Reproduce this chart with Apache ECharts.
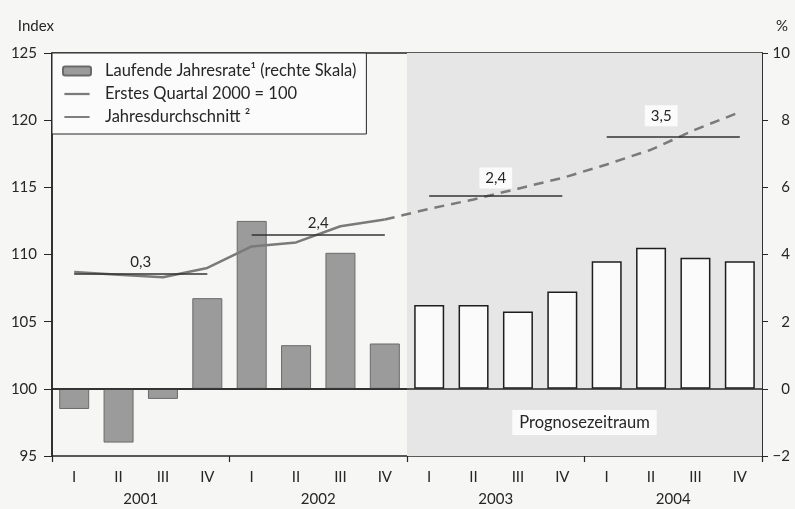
<!DOCTYPE html>
<html>
<head>
<meta charset="utf-8">
<script src="https://cdn.jsdelivr.net/npm/echarts@6/dist/echarts.min.js"></script>
<style>
  html, body { margin: 0; padding: 0; background: #f6f6f5; }
  #chart { width: 795px; height: 509px; }
</style>
</head>
<body>
<div id="chart"></div>
<script>
const years = ["2001", "2002", "2003", "2004"];
const quarters = ["I", "II", "III", "IV"];
// laufende Jahresrate in % (rechte Skala)
const rate = [-0.6, -1.6, -0.3, 2.7, 5.0, 1.3, 4.05, 1.35, 2.5, 2.5, 2.3, 2.9, 3.8, 4.2, 3.9, 3.8];
// Index, Erstes Quartal 2000 = 100
const indexActual = [108.7, 108.5, 108.3, 109.0, 110.6, 110.9, 112.1, 112.6];
const indexForecast = [112.6, 113.4, 114.1, 114.9, 115.7, 116.7, 117.8, 119.3, 120.6];
// Jahresdurchschnitt (Index) und Veränderung in %
const yearAvg = [108.6, 111.5, 114.4, 118.8];
const yearAvgLabel = ["0,3", "2,4", "2,4", "3,5"];
const forecastFrom = 8; // ab 2003 I

const categories = [];
years.forEach((y) => quarters.forEach((q) => categories.push(y + " " + q)));

const font = "Lato";
const ink = "#262626";

const barData = rate.map((v, i) =>
  i < forecastFrom
    ? v
    : { value: v, itemStyle: { color: "#fbfbfb", borderColor: "#1e1e1e", borderWidth: 1.5 } }
);
const solidLine = categories.map((c, i) => (i < indexActual.length ? indexActual[i] : null));
const dashedLine = categories.map((c, i) =>
  i >= indexActual.length - 1 ? indexForecast[i - indexActual.length + 1] : null
);

// Labels der Jahresdurchschnitte: 2003/2004 auf weissem Feld
const avgLabelStyle = [
  { distance: 4 },
  { distance: 4 },
  { distance: 7, backgroundColor: "#fbfbfb", padding: [3, 6] },
  { distance: 10, backgroundColor: "#fbfbfb", padding: [3, 6], offset: [-12, 0] },
];
const avgLines = years.map((y, k) => [
  { coord: [y + " I", yearAvg[k]], label: Object.assign({ formatter: yearAvgLabel[k] }, avgLabelStyle[k]) },
  { coord: [y + " IV", yearAvg[k]] },
]);

const chart = echarts.init(document.getElementById("chart"));

const option = {
  backgroundColor: "#f6f6f5",
  animation: false,
  textStyle: { fontFamily: font, color: ink },
  grid: {
    left: 52, right: 33, top: 53, bottom: 53,
    show: true, borderColor: ink, borderWidth: 1.5, backgroundColor: "transparent",
  },
  legend: {
    orient: "vertical",
    left: 52, top: 53,
    padding: [9, 10, 8, 10],
    itemGap: 5,
    itemWidth: 28,
    itemHeight: 9,
    backgroundColor: "#fbfbfb",
    borderColor: ink,
    borderWidth: 1,
    textStyle: { fontFamily: font, fontSize: 16.5, color: ink, lineHeight: 18, padding: [0, 0, 0, 9] },
    data: [
      { name: "Laufende Jahresrate¹ (rechte Skala)" },
      { name: "Erstes Quartal 2000 = 100", icon: "path://M0,0L0,0M0,3.75H28V6.25H0ZM28,10L28,10" },
      { name: "Jahresdurchschnitt ²", icon: "path://M0,0L0,0M0,4.3H28V5.7H0ZM28,10L28,10" },
    ],
  },
  xAxis: [
    {
      type: "category",
      data: categories,
      position: "bottom",
      axisLine: { lineStyle: { color: ink, width: 1.5 } },
      axisTick: { show: false },
      axisLabel: {
        formatter: (v) => v.split(" ")[1],
        margin: 14, fontSize: 15, fontFamily: font, color: ink,
      },
    },
    {
      type: "category",
      data: years,
      position: "bottom",
      axisLine: { show: false },
      axisTick: { show: true, length: 6, lineStyle: { color: ink, width: 1.2 } },
      axisLabel: { margin: 36, fontSize: 15, fontFamily: font, color: ink },
    },
    { type: "value", min: 0, max: categories.length, show: false },
  ],
  yAxis: [
    {
      type: "value",
      name: "Index",
      nameLocation: "end",
      nameGap: 19,
      nameTextStyle: { align: "right", fontSize: 15, fontFamily: font, color: ink, padding: [0, -2, 0, 0] },
      min: 95, max: 125, interval: 5,
      position: "left",
      axisLine: { show: true, lineStyle: { color: ink, width: 1.5 } },
      axisTick: { show: true, length: 8, lineStyle: { color: ink } },
      axisLabel: { margin: 15, fontSize: 15, fontFamily: font, color: ink },
      splitLine: { show: false },
    },
    {
      type: "value",
      name: "%",
      nameLocation: "end",
      nameGap: 19,
      nameTextStyle: { align: "left", fontSize: 15, fontFamily: font, color: ink, padding: [0, 0, 0, 14] },
      min: -2, max: 10, interval: 2,
      position: "right",
      axisLine: { show: true, lineStyle: { color: ink, width: 1.5 } },
      axisTick: { show: true, length: 6, lineStyle: { color: ink } },
      axisLabel: {
        margin: 28, align: "right", fontSize: 15, fontFamily: font, color: ink,
        formatter: (v) => String(v).replace("-", "\u2212"),
      },
      splitLine: { show: false },
    },
  ],
  series: [
    {
      // Prognosezeitraum: grau hinterlegt
      name: "Prognosezeitraum",
      type: "line",
      xAxisIndex: 2,
      yAxisIndex: 0,
      data: [],
      z: 0,
      silent: true,
      markArea: {
        silent: true,
        itemStyle: { color: "#e6e6e6" },
        data: [[{ xAxis: forecastFrom }, { xAxis: categories.length }]],
      },
      markPoint: {
        silent: true,
        symbol: "rect",
        symbolSize: 1,
        itemStyle: { color: "transparent" },
        label: {
          show: true,
          position: "inside",
          formatter: "Prognosezeitraum",
          fontFamily: font, fontSize: 16.5, color: ink,
          backgroundColor: "#fbfbfb",
          padding: [4, 7],
        },
        data: [{ coord: [12, 97.5] }],
      },
    },
    {
      name: "Laufende Jahresrate¹ (rechte Skala)",
      type: "bar",
      xAxisIndex: 0,
      yAxisIndex: 1,
      barWidth: 30,
      itemStyle: { color: "#9b9b9b", borderColor: "#6a6a6a", borderWidth: 1 },
      data: barData,
      markLine: {
        silent: true,
        symbol: "none",
        label: { show: false },
        lineStyle: { color: ink, width: 1.5, type: "solid" },
        data: [{ yAxis: 0 }],
      },
    },
    {
      name: "Erstes Quartal 2000 = 100",
      type: "line",
      xAxisIndex: 0,
      yAxisIndex: 0,
      symbol: "none",
      z: 3,
      itemStyle: { color: "#7a7a7a" },
      lineStyle: { color: "#7a7a7a", width: 2.5 },
      data: solidLine,
    },
    {
      name: "Erstes Quartal 2000 = 100",
      type: "line",
      xAxisIndex: 0,
      yAxisIndex: 0,
      symbol: "none",
      z: 3,
      itemStyle: { color: "#7a7a7a" },
      lineStyle: { color: "#7a7a7a", width: 2.5, type: [10, 7] },
      data: dashedLine,
    },
    {
      name: "Jahresdurchschnitt ²",
      type: "line",
      xAxisIndex: 0,
      yAxisIndex: 0,
      symbol: "none",
      z: 4,
      itemStyle: { color: "#333" },
      lineStyle: { color: "#333", width: 1.5 },
      data: [],
      markLine: {
        silent: true,
        symbol: "none",
        lineStyle: { color: "#333", width: 1.5, type: "solid" },
        label: {
          show: true,
          position: "middle",
          fontFamily: font, fontSize: 15, color: ink,
        },
        data: avgLines,
      },
    },
  ],
};

chart.setOption(option);
</script>
</body>
</html>
